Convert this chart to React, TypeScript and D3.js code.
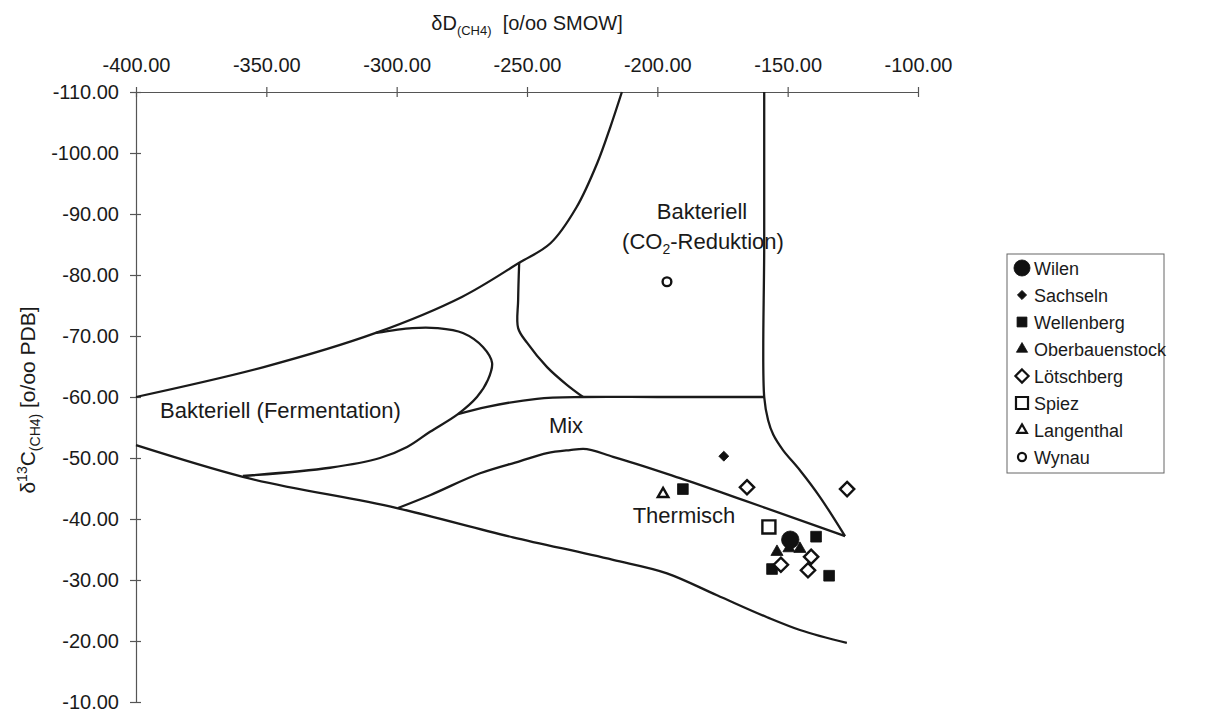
import React, { useEffect, useRef } from "react";
import * as d3 from "d3";

// axis ticks
const xTicks = [-400, -350, -300, -250, -200, -150, -100];
const yTicks = [-110, -100, -90, -80, -70, -60, -50, -40, -30, -20, -10];

// field boundaries as [dD, d13C]
const fermentationTop = [[-400, -60], [-351, -64.9], [-308, -70.5], [-275, -76.4], [-253, -82], [-241, -85.2], [-231, -91.1], [-223, -98.4], [-218, -104.3], [-213.6, -110]];
const fermentationLoop = [[-308, -70.5], [-294, -71.3], [-284.5, -71.3], [-274.6, -70.5], [-266.9, -68.2], [-263.4, -65.6], [-265, -62.8], [-269.2, -60], [-276.5, -57.2], [-287.2, -54.3], [-296, -51.8], [-306.4, -50], [-325.6, -48.4], [-359, -47.05]];
const co2Inner = [[-253, -82], [-253.4, -75.9], [-253.4, -71.3], [-250, -68.9], [-242.3, -64.9], [-234.7, -62], [-228.5, -60]];
const mixTop = [[-276.5, -57.2], [-265.3, -58.4], [-246.2, -59.7], [-228.5, -60], [-200, -60], [-159, -60]];
const co2Right = [[-159, -110], [-159, -85], [-159, -60], [-157.5, -56.2], [-155.5, -53.8], [-151.8, -51.3], [-145.3, -48], [-137.6, -43.6], [-128, -37.2]];
const thermTop = [[-299.5, -41.8], [-287.2, -43.9], [-268, -47.5], [-252.6, -49.5], [-242.3, -50.8], [-233.5, -51.3], [-228.5, -51.5], [-217, -50.2], [-191.3, -46.7], [-167, -43.1], [-128, -37.2]];
const thermBottom = [[-400, -52.1], [-359, -46.9], [-299.9, -41.8], [-255.4, -37], [-217, -33.3], [-196.3, -31.1], [-177.1, -27.5], [-157.9, -23.9], [-145.3, -21.8], [-127.3, -19.7]];

// samples [dD, d13C]
const wilen = [[-149, -36.6]];
const sachseln = [[-174.5, -50.3]];
const wellenberg = [[-190.2, -44.9], [-139.1, -37.1], [-134.1, -30.7], [-156, -31.8]];
const oberbauenstock = [[-154.1, -34.6], [-149.5, -35.2], [-145.3, -35.1]];
const loetschberg = [[-165.6, -45.2], [-127.2, -44.9], [-152.6, -32.5], [-141, -33.8], [-142.2, -31.6]];
const spiez = [[-157.2, -38.7]];
const langenthal = [[-197.8, -44.1]];
const wynau = [[-196.3, -78.9]];

const FONT = "'Liberation Sans', Arial, sans-serif";
const INK = "#1a1a1a";

const series = [
  { name: "Wilen", data: wilen, type: d3.symbolCircle, size: 240, filled: true },
  { name: "Sachseln", data: sachseln, type: d3.symbolDiamond2, size: 64, filled: true },
  { name: "Wellenberg", data: wellenberg, type: d3.symbolSquare, size: 115, filled: true },
  { name: "Oberbauenstock", data: oberbauenstock, type: d3.symbolTriangle, size: 64, filled: true },
  { name: "Lötschberg", data: loetschberg, type: d3.symbolDiamond2, size: 130, filled: false },
  { name: "Spiez", data: spiez, type: d3.symbolSquare, size: 170, filled: false },
  { name: "Langenthal", data: langenthal, type: d3.symbolTriangle, size: 48, filled: false },
  { name: "Wynau", data: wynau, type: d3.symbolCircle, size: 60, filled: false },
];

const fmt = d => d.toFixed(2);

const App = () => {
  const ref = useRef(null);

  useEffect(() => {
    const svg = d3.select(ref.current);
    svg.selectAll("*").remove();

    const x = d3.scaleLinear().domain([-400, -100]).range([136, 918]);
    const y = d3.scaleLinear().domain([-110, -10]).range([92, 702]);

    // top axis
    const xAxis = svg.append("g")
      .attr("transform", `translate(0,${y(-110)})`)
      .call(d3.axisTop(x).tickValues(xTicks).tickFormat(fmt).tickSizeInner(5).tickSizeOuter(0).tickPadding(15));
    xAxis.select(".domain").attr("stroke", "#555").attr("stroke-width", 1.2);
    xAxis.selectAll(".tick line").attr("y1", 5).attr("stroke", "#555").attr("stroke-width", 1.2);
    xAxis.selectAll(".tick text").style("font-family", FONT).style("font-size", "20px").attr("fill", INK);

    // left axis
    const yAxis = svg.append("g")
      .attr("transform", `translate(${x(-400)},0)`)
      .call(d3.axisLeft(y).tickValues(yTicks).tickFormat(fmt).tickSizeInner(6).tickSizeOuter(0).tickPadding(11));
    yAxis.select(".domain").attr("stroke", "#555").attr("stroke-width", 1.2);
    yAxis.selectAll(".tick line").attr("x1", 5).attr("stroke", "#555").attr("stroke-width", 1.2);
    yAxis.selectAll(".tick text").style("font-family", FONT).style("font-size", "20px").attr("fill", INK);

    // field boundaries
    const smooth = d3.line().x(d => x(d[0])).y(d => y(d[1])).curve(d3.curveCatmullRom.alpha(0.5));
    const mono = d3.line().x(d => x(d[0])).y(d => y(d[1])).curve(d3.curveMonotoneX);
    const paths = [
      [fermentationTop, smooth],
      [fermentationLoop, smooth],
      [co2Inner, smooth],
      [mixTop, smooth],
      [co2Right, smooth],
      [thermTop, mono],
      [thermBottom, mono],
    ];
    paths.forEach(([pts, gen]) => {
      svg.append("path")
        .attr("d", gen(pts))
        .attr("fill", "none")
        .attr("stroke", INK)
        .attr("stroke-width", 2.3)
        .attr("stroke-linejoin", "round");
    });

    // field labels
    const label = (tx, ty, str, anchor = "start") =>
      svg.append("text").attr("x", tx).attr("y", ty).attr("text-anchor", anchor)
        .style("font-family", FONT).style("font-size", "22px").attr("fill", INK).text(str);
    label(160, 418, "Bakteriell (Fermentation)");
    label(566, 433, "Mix", "middle");
    label(684, 523, "Thermisch", "middle");
    label(702, 219, "Bakteriell", "middle");
    const co2 = svg.append("text").attr("x", 703).attr("y", 249).attr("text-anchor", "middle")
      .style("font-family", FONT).style("font-size", "22px").attr("fill", INK);
    co2.append("tspan").text("(CO");
    co2.append("tspan").attr("dy", 5).style("font-size", "14px").text("2");
    co2.append("tspan").attr("dy", -5).text("-Reduktion)");

    // samples
    series.forEach(s => {
      svg.append("g").selectAll("path")
        .data(s.data)
        .enter()
        .append("path")
        .attr("transform", d => `translate(${x(d[0])},${y(d[1])})`)
        .attr("d", d3.symbol().type(s.type).size(s.size)())
        .attr("fill", s.filled ? "#111" : "#fff")
        .attr("stroke", "#111")
        .attr("stroke-width", s.filled ? 0.8 : 2.4);
    });

    // axis titles
    const xt = svg.append("text").attr("x", 527).attr("y", 30).attr("text-anchor", "middle")
      .style("font-family", FONT).style("font-size", "20px").attr("fill", INK);
    xt.append("tspan").text("δD");
    xt.append("tspan").attr("dy", 5).style("font-size", "13px").text("(CH4)");
    xt.append("tspan").attr("dy", -5).text("\u00a0\u00a0[o/oo SMOW]");

    const yt = svg.append("text").attr("transform", "translate(35,400) rotate(-90)").attr("text-anchor", "middle")
      .style("font-family", FONT).style("font-size", "21px").attr("fill", INK);
    yt.append("tspan").text("δ");
    yt.append("tspan").attr("dy", -8).style("font-size", "14px").text("13");
    yt.append("tspan").attr("dy", 8).text("C");
    yt.append("tspan").attr("dy", 5).style("font-size", "14px").text("(CH4)");
    yt.append("tspan").attr("dy", -5).text(" [o/oo PDB]");

    // legend
    const lg = svg.append("g");
    const rowH = 27;
    lg.append("rect").attr("x", 1007).attr("y", 254).attr("width", 157).attr("height", rowH * series.length + 3)
      .attr("fill", "#fff").attr("stroke", "#666").attr("stroke-width", 1);
    series.forEach((s, i) => {
      const cy = 268 + i * rowH;
      lg.append("path")
        .attr("transform", `translate(1022,${cy})`)
        .attr("d", d3.symbol().type(s.type).size(s.size * 0.85)())
        .attr("fill", s.filled ? "#111" : "#fff")
        .attr("stroke", "#111")
        .attr("stroke-width", s.filled ? 0.8 : 2.2);
      lg.append("text").attr("x", 1034).attr("y", cy + 6.5)
        .style("font-family", FONT).style("font-size", "18px").attr("fill", INK).text(s.name);
    });
  }, []);

  return <svg ref={ref} width={1205} height={720} style={{ position: "absolute", left: 0, top: 0, background: "#fff" }} />;
};

export default App;
